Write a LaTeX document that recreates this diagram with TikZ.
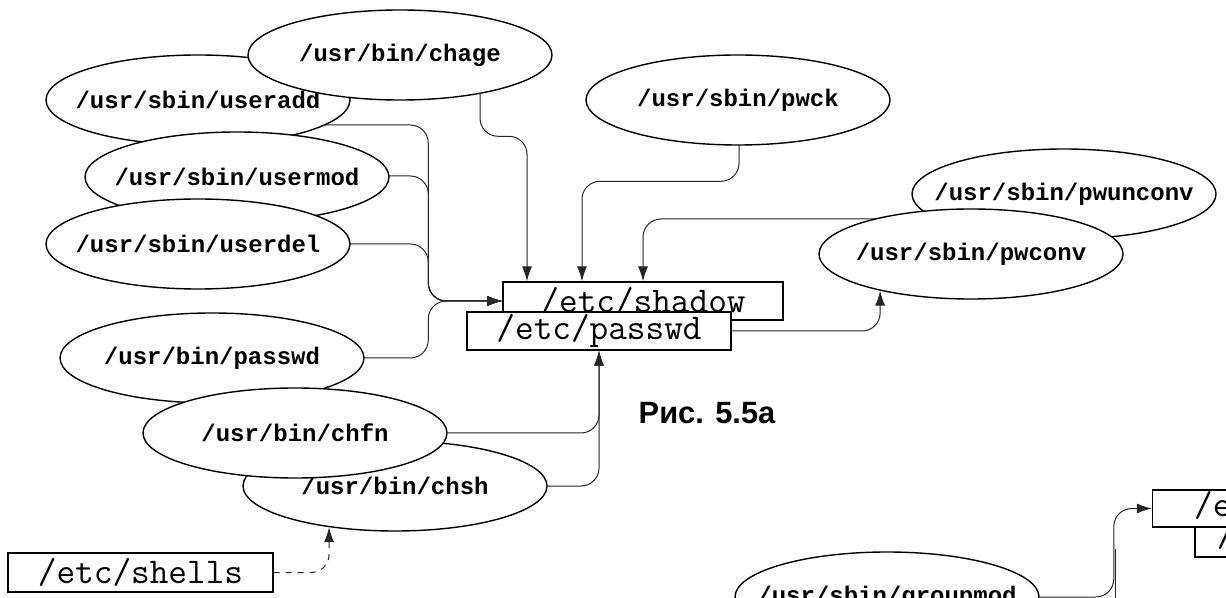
\documentclass[tikz,border=0pt]{standalone}
\usepackage{fontspec}
\setmainfont{Liberation Sans}
\setmonofont{Liberation Mono}
\newfontfamily\filefont{Latin Modern Mono}
\usetikzlibrary{shapes.geometric,arrows.meta,calc,backgrounds}
\newcommand{\prg}[1]{\makebox[0pt]{\ttfamily\bfseries #1}}
\begin{document}
\begin{tikzpicture}[x=0.5pt,y=-0.5pt,
  prog/.style={ellipse,draw,fill=white,line width=0.7pt,minimum width=152pt,minimum height=45pt,inner sep=0pt,font=\fontsize{12}{14}\selectfont},
  file/.style={rectangle,draw,fill=white,line width=0.7pt,minimum height=19pt,inner sep=0pt,font=\fontsize{18.1}{20}\filefont},
  conn/.style={line width=0.5pt,black!85,rounded corners=9pt},
  arr/.style={-{Latex[length=7.5pt,width=5pt]}}]
\useasboundingbox (0,0) rectangle (1226,598);
\clip (0,0) rectangle (1226,598);
% programs
\node[prog] (useradd) at (198,100) {\prg{/usr/sbin/useradd}};
\node[prog] (chage) at (400,55) {\prg{/usr/bin/chage}};
\node[prog] (usermod) at (237,177) {\prg{/usr/sbin/usermod}};
\node[prog] (userdel) at (198,244) {\prg{/usr/sbin/userdel}};
\node[prog] (pwck) at (738,100) {\prg{/usr/sbin/pwck}};
\node[prog] (pwunconv) at (1064,194) {\prg{/usr/sbin/pwunconv}};
\node[prog] (pwconv) at (971,254) {\prg{/usr/sbin/pwconv}};
\node[prog] (upasswd) at (212,358) {\prg{/usr/bin/passwd}};
\node[prog] (chsh) at (395,486) {\prg{/usr/bin/chsh}};
\node[prog] (chfn) at (295,433) {\prg{/usr/bin/chfn}};
\node[prog] (groupmod) at (887,597) {\prg{/usr/sbin/groupmod}};
% files
\node[file,minimum width=140pt] (shadow) at (643,301) {/etc/shadow};
\node[file,minimum width=132pt] (passwd) at (599,331) {/etc/passwd};
\node[file,minimum width=132.5pt,minimum height=19.5pt] (shells) at (140.5,572.5) {/etc/shells};
\node[file,minimum width=115pt] (group) at (1310,538) {/etc/group};
\node[file,minimum width=153.5pt,minimum height=18.5pt] (gshadow) at (1306,508.5) {/etc/gshadow};
\node[font=\fontsize{15.4}{18}\selectfont\bfseries] (fig) at (707,413) {Рис. 5.5a};
% links
\begin{pgfonlayer}{background}
\clip (0,0) rectangle (1226,598);
\draw[conn,arr] ($(chage)+(80,0)$) |- ($(shadow.north)+(-116,-145)$) -- ($(shadow.north)+(-116,0)$);
\draw[conn,arr] ($(pwck)+(1,0)$) |- ($(shadow.north)+(-61,-100)$) -- ($(shadow.north)+(-61,0)$);
\draw[conn,arr] ($(pwunconv)+(0,25)$) -| (shadow.north);
\foreach \p/\dy in {useradd/25,usermod/-1,userdel/0,upasswd/0}
  \draw[conn,arr] ($(\p)+(0,\dy)$) -| ($(shadow.west)+(-74,0)$) -- (shadow.west);
\foreach \p in {chfn,chsh}
  \draw[conn,arr] (\p) -| (passwd.south);
\draw[conn,arr] (passwd.east) -| (pwconv.202);
\draw[conn,arr,dashed] (shells.east) -| (chsh.212);
\draw[conn,arr] (groupmod) -| ($(gshadow.west)+(-38,0)$) -- (gshadow.west);
\coordinate (gnext) at ($(gshadow.west)+(-36,140)$);
\draw[conn] (gnext) -- ($(gshadow.west)+(-36,40)$);
\end{pgfonlayer}
\end{tikzpicture}
\end{document}
